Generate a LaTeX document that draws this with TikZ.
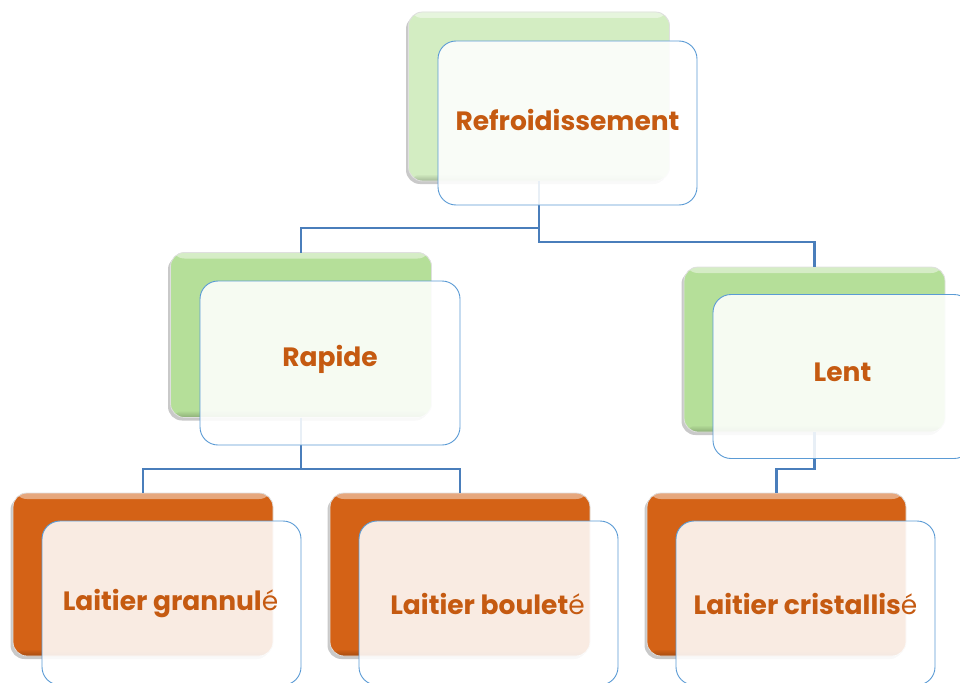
\documentclass[tikz,border=0pt]{standalone}
\usepackage{fontspec}
\setmainfont{Poppins}
\usetikzlibrary{shadows,calc}

\definecolor{labeltext}{HTML}{C55A11}
\definecolor{greenlight}{HTML}{D3EDC2}
\definecolor{greenmid}{HTML}{B5DF99}
\definecolor{orangebox}{HTML}{D46216}
\definecolor{framebl}{HTML}{5B9BD5}
\definecolor{wireblue}{HTML}{4A7EBB}

\tikzset{
  backbox/.style={
    rounded corners=14pt, inner sep=0pt, outer sep=0pt,
    minimum width=261pt, minimum height=165pt,
    fill=#1, draw=white!75!gray, line width=0.8pt,
    drop shadow={shadow xshift=-2.5pt, shadow yshift=-3pt, opacity=0.3, fill=black!70},
    path picture={
      \fill[top color=white, bottom color=#1, opacity=0.45]
        (path picture bounding box.north west) rectangle
        ([yshift=-6pt]path picture bounding box.north east);
      \fill[top color=#1, bottom color=black, opacity=0.22]
        ([yshift=7pt]path picture bounding box.south west) rectangle
        (path picture bounding box.south east);
    }
  },
  frontbox/.style={
    rounded corners=18pt, inner sep=0pt, outer sep=0pt,
    minimum width=259pt, minimum height=164pt,
    fill=white, fill opacity=0.88,
    draw=framebl, line width=0.9pt
  },
  boxlabel/.style={text=labeltext, font=\fontsize{26.5}{30}\selectfont\bfseries},
  wire/.style={draw=wireblue, line width=2.6pt}
}

\begin{document}
\begin{tikzpicture}[x=1pt,y=-1pt]
\useasboundingbox (0,0) rectangle (960,682);

% back (coloured) boxes
\node[backbox=greenlight, minimum height=169pt] (refB) at (539,96.5) {};
\node[backbox=greenmid] (rapB) at (301,335) {};
\node[backbox=greenmid] (lenB) at (814.5,349.5) {};
\node[backbox=orangebox, minimum width=260pt, minimum height=163pt] (graB) at (143,574.5) {};
\node[backbox=orangebox, minimum width=260pt, minimum height=163pt] (bouB) at (460,574.5) {};
\node[backbox=orangebox, minimum width=259pt, minimum height=163pt] (criB) at (776.5,574.5) {};

% tree connectors
\coordinate (jr) at (refB.south |- 0,228);
\coordinate (jl) at (refB.south |- 0,242);
\coordinate (ja) at (rapB.south |- 0,469);
\coordinate (jb) at (lenB.south |- 0,469);
\draw[wire] (refB.south) -- (jl) -| (lenB.north);
\draw[wire] (jr) -| (rapB.north);
\draw[wire] (rapB.south) -- (ja) -| (graB.north);
\draw[wire] (ja) -| (bouB.north);
\draw[wire] (lenB.south) -- (jb) -| (criB.north);

% front (translucent) boxes
\node[frontbox] (refF) at (567.5,123) {};
\node[frontbox, minimum width=260pt] (rapF) at (330,363) {};
\node[frontbox] (lenF) at (842.5,376.5) {};
\node[frontbox] (graF) at (171.5,603) {};
\node[frontbox] (bouF) at (488.5,603) {};
\node[frontbox] (criF) at (805.5,603) {};

% labels
\node[boxlabel] (refT) at ([yshift=3pt]refF.center) {Refroidissement};
\node[boxlabel] (rapT) at ([yshift=4pt]rapF.center) {Rapide};
\node[boxlabel] (lenT) at ([yshift=4pt]lenF.center) {Lent};
\node[boxlabel] (graT) at ([xshift=-1pt,yshift=-1pt]graF.center) {Laitier grannul{\mdseries é}};
\node[boxlabel] (bouT) at ([xshift=-1pt,yshift=-1pt]bouF.center) {Laitier boulet{\mdseries é}};
\node[boxlabel] (criT) at ([xshift=0pt,yshift=-1pt]criF.center) {Laitier cristallis{\mdseries é}};
\end{tikzpicture}
\end{document}
